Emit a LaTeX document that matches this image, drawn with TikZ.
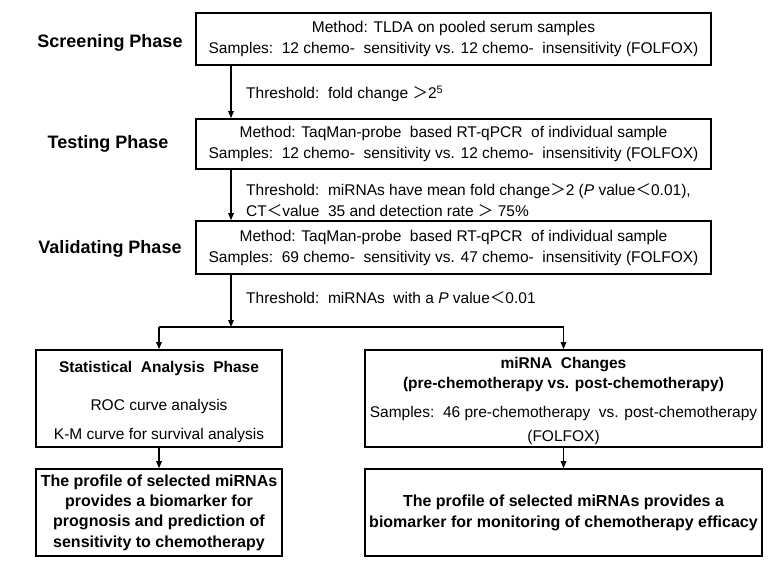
\documentclass[tikz,border=0pt]{standalone}
\usepackage{fontspec}
\setmainfont{Liberation Sans}
\newfontfamily\cjk{Noto Sans CJK SC}
\usetikzlibrary{arrows.meta}
\newcommand{\gt}{{\cjk ＞}}
\newcommand{\lt}{{\cjk ＜}}
\begin{document}
\begin{tikzpicture}[x=1pt,y=-1pt,
  box/.style={draw, line width=1.6pt, inner sep=0pt, align=center,
    font=\fontsize{15.5}{21}\selectfont},
  wide/.style={box, minimum width=515pt},
  phase/.style={font=\fontsize{18}{20}\selectfont\bfseries, inner sep=0pt},
  txt/.style={font=\fontsize{15.5}{21}\selectfont, inner sep=0pt, align=center},
  txtb/.style={font=\fontsize{15.5}{20}\selectfont\bfseries, inner sep=0pt, align=center},
  thr/.style={font=\fontsize{15.5}{21}\selectfont, inner sep=0pt, anchor=west, align=left},
  arr/.style={line width=1.3pt, -{Triangle[length=7pt,width=5.5pt]}},
  ln/.style={line width=1.3pt}]
\useasboundingbox (0,0) rectangle (781,564);

% phase labels
\node[phase] (lscr) at (110,43) {Screening Phase};
\node[phase] (ltst) at (108,144) {Testing Phase};
\node[phase] (lval) at (110,249) {Validating Phase};

% main boxes
\node[wide, minimum height=52pt] (scr) at (453.5,39)
  {Method: TLDA on pooled serum samples\\Samples:\ \ 12 chemo-\ \ sensitivity vs. 12 chemo-\ \ insensitivity (FOLFOX)};
\node[wide, minimum height=50pt] (tst) at (453.5,144)
  {Method: TaqMan-probe\ \ based RT-qPCR\ \ of individual sample\\Samples:\ \ 12 chemo-\ \ sensitivity vs. 12 chemo-\ \ insensitivity (FOLFOX)};
\node[wide, minimum height=53pt] (val) at (453.5,247.5)
  {Method: TaqMan-probe\ \ based RT-qPCR\ \ of individual sample\\Samples:\ \ 69 chemo-\ \ sensitivity vs. 47 chemo-\ \ insensitivity (FOLFOX)};

% thresholds
\node[thr] (t1) at (246,94) {Threshold:\ \ fold change \gt2\textsuperscript{5}};
\node[thr] (t2) at (246,200) {Threshold:\ \ miRNAs have mean fold change\gt2 (\textit{P} value\lt0.01),\\CT\lt value\ \ 35 and detection rate \gt\ 75\%};
\node[thr] (t3) at (246,298) {Threshold:\ \ miRNAs\ \ with a \textit{P} value\lt0.01};

% lower boxes
\node[box, minimum width=246pt, minimum height=97pt] (sap) at (159,398.5) {};
\node[txtb] (sapt) at (159,368) {Statistical\ \ Analysis\ \ Phase};
\node[txt] (roc) at (159,406) {ROC curve analysis};
\node[txt] (km) at (159,435) {K-M curve for survival analysis};

\node[box, minimum width=397pt, minimum height=97pt] (mch) at (563.5,398.5) {};
\node[txtb] (mcht) at (563.5,374.5) {miRNA\ \ Changes\\(pre-chemotherapy vs. post-chemotherapy)};
\node[txt] (mchs) at (563.5,413) {Samples:\ \ 46 pre-chemotherapy\ \ vs. post-chemotherapy};
\node[txt] (mchf) at (563.5,437) {(FOLFOX)};

\node[box, minimum width=246pt, minimum height=87pt, font=\fontsize{16}{20.3}\selectfont\bfseries] (res1) at (159,512.5)
  {The profile of selected miRNAs\\provides a biomarker for\\prognosis and prediction of\\sensitivity to chemotherapy};
\node[box, minimum width=397pt, minimum height=87pt, font=\fontsize{16}{21}\selectfont\bfseries] (res2) at (563.5,512.5)
  {The profile of selected miRNAs provides a\\biomarker for monitoring of chemotherapy efficacy};

% connectors
\coordinate (ax) at (231,0);
\coordinate (j) at (231,327);
\coordinate (jl) at (159,327);
\coordinate (jr) at (563.5,327);
\draw[arr] (scr.south -| ax) -- (tst.north -| ax);
\draw[arr] (tst.south -| ax) -- (val.north -| ax);
\draw[arr] (val.south -| ax) -- (j);
\draw[ln] (jl) -- (jr);
\draw[arr] (jl) -- (sap.north);
\draw[arr] (jr) -- (mch.north);
\draw[arr] (sap.south) -- (res1.north);
\draw[arr] (mch.south) -- (res2.north);
\end{tikzpicture}
\end{document}
